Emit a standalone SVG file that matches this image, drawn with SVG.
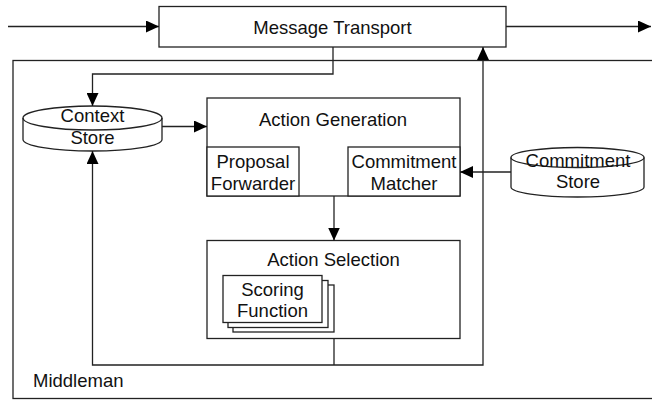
<svg xmlns="http://www.w3.org/2000/svg" width="652" height="400" viewBox="0 0 652 400">
<style>
.box{fill:#fff;stroke:#222;stroke-width:1.3}
.frame{fill:none;stroke:#222;stroke-width:1.3}
.conn{fill:none;stroke:#222;stroke-width:1.3}
.t{font-family:"Liberation Sans",Arial,sans-serif;font-size:18.5px;fill:#111;text-anchor:middle}
.tl{font-family:"Liberation Sans",Arial,sans-serif;font-size:18.5px;fill:#111}
</style>
<defs>
<marker id="arr" markerUnits="userSpaceOnUse" markerWidth="13" markerHeight="12" refX="13" refY="6" orient="auto">
<path d="M0,0 L13,6 L0,12 z" fill="#000"/>
</marker>
</defs>
<rect width="652" height="400" fill="#fff"/>
<g id="middleman">
<rect class="frame" x="13" y="60.5" width="660" height="338"/>
<text class="tl" x="33" y="387">Middleman</text>
</g>
<g id="message-transport">
<rect class="box" x="159" y="6.5" width="347" height="40.5"/>
<text class="t" x="332.5" y="34">Message Transport</text>
</g>
<g id="context-store">
<path class="box" d="M23,118 A69.5,12 0 0,1 162,118 L162,139.5 A69.5,11.5 0 0,1 23,139.5 Z"/>
<path class="frame" d="M23,118 A69.5,12 0 0,0 162,118"/>
<text class="t" x="92.5" y="121.5">Context</text>
<text class="t" x="92.5" y="144">Store</text>
</g>
<g id="action-generation">
<rect class="box" x="207" y="98" width="253" height="98"/>
<text class="t" x="333" y="126">Action Generation</text>
</g>
<g id="proposal-forwarder">
<rect class="box" x="207" y="147" width="92" height="49"/>
<text class="t" x="253" y="168">Proposal</text>
<text class="t" x="253" y="190">Forwarder</text>
</g>
<g id="commitment-matcher">
<rect class="box" x="348" y="147" width="112" height="49"/>
<text class="t" x="404" y="168">Commitment</text>
<text class="t" x="404" y="190">Matcher</text>
</g>
<g id="commitment-store">
<path class="box" d="M511,157.5 A66.5,10 0 0,1 644,157.5 L644,187 A66.5,10 0 0,1 511,187 Z"/>
<path class="frame" d="M511,157.5 A66.5,10 0 0,0 644,157.5"/>
<text class="t" x="578" y="166.5">Commitment</text>
<text class="t" x="578" y="188">Store</text>
</g>
<g id="action-selection">
<rect class="box" x="207" y="240.5" width="253" height="98"/>
<text class="t" x="333.5" y="266">Action Selection</text>
</g>
<g id="scoring-function">
<rect class="box" x="233" y="285" width="101" height="47"/>
<rect class="box" x="228" y="280.5" width="100" height="47"/>
<rect class="box" x="223" y="275.5" width="99" height="47"/>
<text class="t" x="272.5" y="296">Scoring</text>
<text class="t" x="272.5" y="316.5">Function</text>
</g>
<g id="connectors">
<path class="conn" d="M8,26.5 H159" marker-end="url(#arr)"/>
<path class="conn" d="M506,26.5 H651" marker-end="url(#arr)"/>
<path class="conn" d="M333,47 V74 H92.5 V106" marker-end="url(#arr)"/>
<path class="conn" d="M162,126.5 H207" marker-end="url(#arr)"/>
<path class="conn" d="M334,196 V240.5" marker-end="url(#arr)"/>
<path class="conn" d="M511,172 H460" marker-end="url(#arr)"/>
<path class="conn" d="M334,338.5 V365"/>
<path class="conn" d="M334,365 H92.5 V151" marker-end="url(#arr)"/>
<path class="conn" d="M334,365 H483 V47" marker-end="url(#arr)"/>
</g>
</svg>
